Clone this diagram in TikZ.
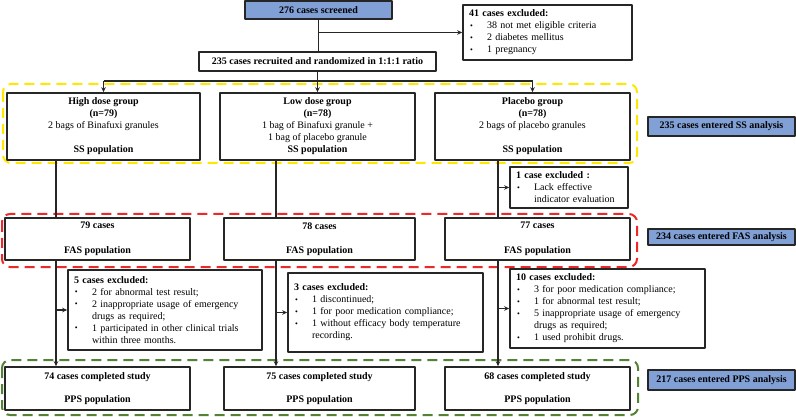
\documentclass[tikz,border=0pt]{standalone}
\usepackage{fontspec}
\setmainfont{Liberation Serif}
\usetikzlibrary{arrows.meta}
\definecolor{hdrblue}{RGB}{128,160,214}
\definecolor{ssyellow}{RGB}{255,232,0}
\definecolor{fasred}{RGB}{236,40,40}
\definecolor{ppsgreen}{RGB}{84,130,53}
\newcommand{\bul}{\makebox[18pt][l]{\hspace{1pt}\raisebox{0.5pt}{\footnotesize\textbullet}}}
\newcommand{\hang}{\hspace*{18pt}}

\begin{document}
\begin{tikzpicture}[x=1pt, y=-1pt, font=\fontsize{10}{12}\selectfont, line join=round, >={Stealth[length=5pt,width=4.5pt]},
	box/.style={draw=black!85, line width=1.6pt, fill=white, inner sep=0pt, align=center},
	exbox/.style={box, align=left, text width=#1},
	bluebox/.style={box, fill=hdrblue, font=\fontsize{10}{12}\selectfont\bfseries},
	link/.style={draw=black!85, line width=1.2pt},
	popframe/.style={line width=2pt, dash pattern=on 10pt off 6pt, rounded corners=8pt}]
	\useasboundingbox (0,0) rectangle (796,417);
	% population frames
	\draw[popframe, ssyellow] (3,84) rectangle (637,163);
	\draw[popframe, fasred] (2,214) rectangle (637,267);
	\draw[popframe, ppsgreen] (2,360) rectangle (638,415);
	% screening and randomization
	\node[bluebox, minimum width=147, minimum height=18] (scr) at (318.5,10) {276 cases screened};
	\node[exbox=157, minimum width=169, minimum height=55] (exc0) at (547.5,32.5) {\textbf{41 cases excluded:}\\\bul 38 not met eligible criteria\\\bul 2 diabetes mellitus\\\bul 1 pregnancy};
	\node[box, minimum width=237, minimum height=19] (rec) at (317.5,61.5) {\textbf{235 cases recruited and randomized in 1:1:1 ratio}};
	\coordinate (split) at (317.5,81);
	% SS population
	\node[box, minimum width=193, minimum height=67] (high) at (103.5,126.5) {\textbf{High dose group}\\\textbf{(n=79)}\\2 bags of Binafuxi granules\\[12pt]\textbf{SS population}};
	\node[box, minimum width=195, minimum height=67] (low) at (317.5,126.5) {\textbf{Low dose group}\\\textbf{(n=78)}\\1 bag of Binafuxi granule +\\1 bag of placebo granule\\\textbf{SS population}};
	\node[box, minimum width=195, minimum height=67] (plac) at (532.5,126.5) {\textbf{Placebo group}\\\textbf{(n=78)}\\2 bags of placebo granules\\[12pt]\textbf{SS population}};
	\node[bluebox, minimum width=147, minimum height=19] (ssres) at (721.5,126.5) {235 cases entered SS analysis};
	\node[exbox=106, minimum width=118, minimum height=41] (exc1) at (569,187.5) {\textbf{1 case excluded :}\\\bul Lack effective\\\hang indicator evaluation};
	% FAS population
	\node[box, minimum width=185, minimum height=42] (fas1) at (97.5,239) {\textbf{79 cases}\\[12.5pt]\textbf{FAS population}};
	\node[box, minimum width=191, minimum height=42] (fas2) at (319.5,239) {\textbf{78 cases}\\[12.5pt]\textbf{FAS population}};
	\node[box, minimum width=185, minimum height=42] (fas3) at (537.5,239) {\textbf{77 cases}\\[12.5pt]\textbf{FAS population}};
	\node[bluebox, minimum width=147, minimum height=16] (fasres) at (721.5,237) {234 cases entered FAS analysis};
	\node[exbox=182, minimum width=194, minimum height=80] (exc2) at (165,310) {\textbf{5 cases excluded:}\\\bul 2 for abnormal test result;\\\bul 2 inappropriate usage of emergency\\\hang drugs as required;\\\bul 1 participated in other clinical trials\\\hang within three months.};
	\node[exbox=183, minimum width=195, minimum height=79] (exc3) at (385.5,312.5) {\textbf{3 cases excluded:}\\\bul 1 discontinued;\\\bul 1 for poor medication compliance;\\\bul 1 without efficacy body temperature\\\hang recording.\\[6pt]};
	\node[exbox=183, minimum width=195, minimum height=79] (exc4) at (607.5,308.5) {\textbf{10 cases excluded:}\\\bul 3 for poor medication compliance;\\\bul 1 for abnormal test result;\\\bul 5 inappropriate usage of emergency\\\hang drugs as required;\\\bul 1 used prohibit drugs.};
	% PPS population
	\node[box, minimum width=185, minimum height=43] (pps1) at (97.5,388.5) {\textbf{74 cases completed study}\\[11pt]\textbf{PPS population}};
	\node[box, minimum width=191, minimum height=43] (pps2) at (319.5,388.5) {\textbf{75 cases completed study}\\[11pt]\textbf{PPS population}};
	\node[box, minimum width=185, minimum height=43] (pps3) at (537.5,388.5) {\textbf{68 cases completed study}\\[11pt]\textbf{PPS population}};
	\node[bluebox, minimum width=147, minimum height=20] (ppsres) at (721.5,380) {217 cases entered PPS analysis};
	% flow lines
	\coordinate (col1) at (56,0);
	\coordinate (col2) at (276,0);
	\coordinate (col3) at (498,0);
	\draw[link] (scr.south) -- (scr.south |- rec.north);
	\draw[link,->] (scr.south |- exc0.west) -- (exc0.west);
	\draw[link,->] (rec.south) -- (rec.south |- low.north);
	\draw[link] (high.north |- split) -- (plac.north |- split);
	\draw[link,->] (high.north |- split) -- (high.north);
	\draw[link,->] (plac.north |- split) -- (plac.north);
	\draw[link] (high.south -| col1) -- (fas1.north -| col1);
	\draw[link] (low.south -| col2) -- (fas2.north -| col2);
	\draw[link] (plac.south -| col3) -- (fas3.north -| col3);
	\draw[link,->] (col3 |- exc1.west) -- (exc1.west);
	\draw[link,->] (fas1.south -| col1) -- (pps1.north -| col1);
	\draw[link,->] (fas2.south -| col2) -- (pps2.north -| col2);
	\draw[link,->] (fas3.south -| col3) -- (pps3.north -| col3);
	\draw[link,->] (col1 |- exc2.west) -- (exc2.west);
	\draw[link,->] (col2 |- exc3.west) -- (exc3.west);
	\draw[link,->] (col3 |- exc4.west) -- (exc4.west);
\end{tikzpicture}
\end{document}
